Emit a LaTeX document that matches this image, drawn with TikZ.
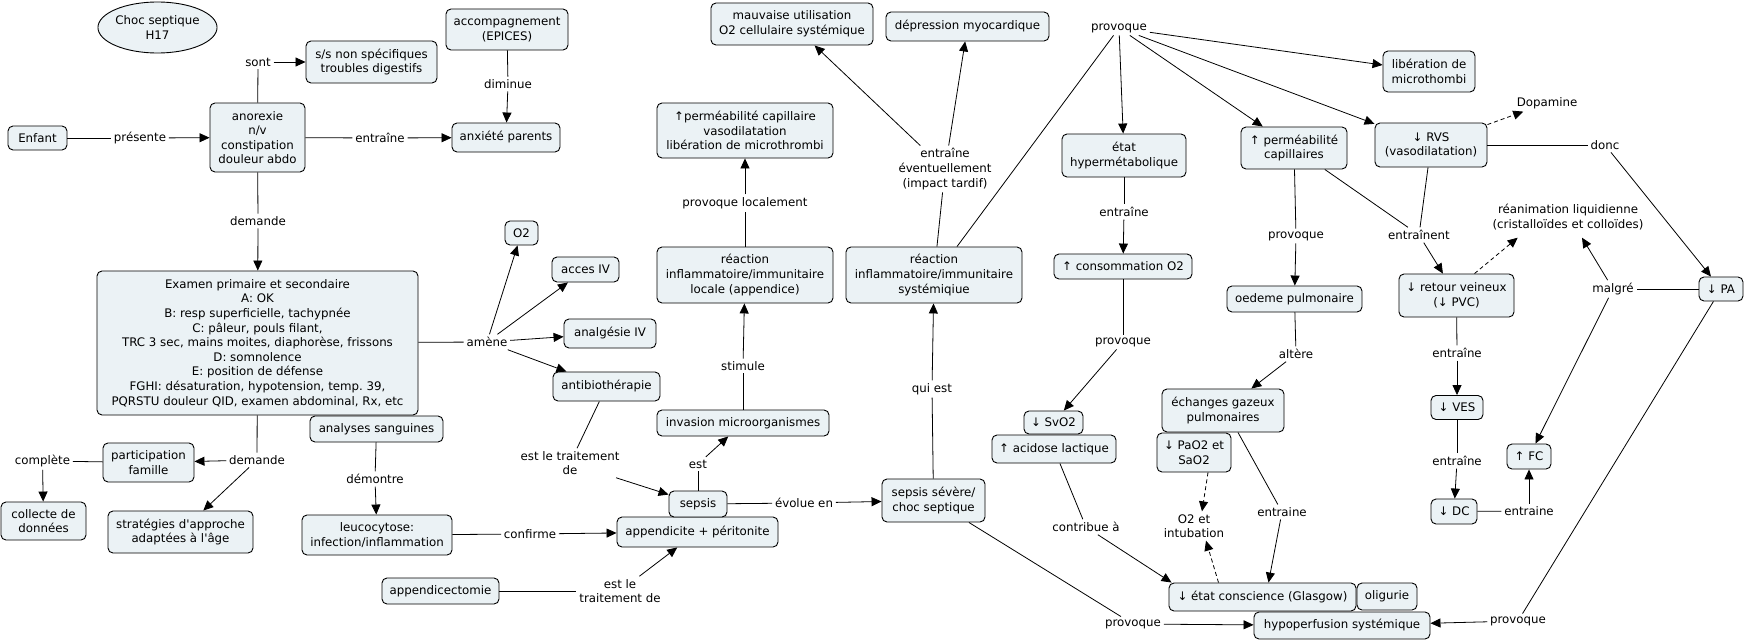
\documentclass[tikz,border=0pt]{standalone}
\usepackage{fontspec}
\setmainfont{DejaVu Sans}
\usetikzlibrary{arrows.meta,shapes.geometric}
\definecolor{boxfill}{RGB}{235,242,245}
\frenchspacing
\tikzset{
  box/.style={draw, line width=0.9pt, rounded corners=5pt, fill=boxfill, align=center, inner sep=1pt},
  lab/.style={align=center, inner sep=2.5pt},
  arr/.style={-{Triangle[length=10pt,width=9pt]}},
  ln/.style={line width=0.8pt},
  dsh/.style={dash pattern=on 4pt off 3pt}
}
\begin{document}
\begin{tikzpicture}[x=1pt,y=-1pt, every node/.style={font=\fontsize{11.8}{14.6}\selectfont}, line width=0.8pt]
\path[fill=white, use as bounding box] (0,0) rectangle (1745,642);

% boxes
\node[ellipse, draw, line width=0.9pt, fill=boxfill, align=center, inner sep=0pt, minimum width=111pt, minimum height=51pt] (choc) at (157.5,27.5) {Choc septique\\H17};
\node[box, minimum width=59pt, minimum height=24pt] (enfant) at (37.5,138) {Enfant};
\node[box, minimum width=95pt, minimum height=69pt] (anor) at (257.5,137.5) {anorexie\\n/v\\constipation\\douleur abdo};
\node[box, minimum width=131pt, minimum height=42pt] (ss) at (371.5,62) {s/s non spécifiques\\troubles digestifs};
\node[box, minimum width=122pt, minimum height=41pt] (accomp) at (507,29.5) {accompagnement\\(EPICES)};
\node[box, minimum width=108pt, minimum height=29pt] (anx) at (506,137.5) {anxiété parents};
\node[box, minimum width=321pt, minimum height=144pt] (exam) at (257.5,343) {Examen primaire et secondaire\\A: OK\\B: resp superficielle, tachypnée\\C: pâleur, pouls filant,\\TRC 3 sec, mains moites, diaphorèse, frissons\\D: somnolence\\E: position de défense\\FGHI: désaturation, hypotension, temp. 39,\\PQRSTU douleur QID, examen abdominal, Rx, etc};
\node[box, minimum width=33pt, minimum height=24pt] (o2) at (521.5,233) {O2};
\node[box, minimum width=67pt, minimum height=25pt] (aiv) at (585.5,269.5) {acces IV};
\node[box, minimum width=92pt, minimum height=29pt] (analg) at (610,333.5) {analgésie IV};
\node[box, minimum width=107pt, minimum height=29pt] (antib) at (606.5,386.5) {antibiothérapie};
\node[box, minimum width=133pt, minimum height=26pt] (analy) at (376.5,429) {analyses sanguines};
\node[box, minimum width=91pt, minimum height=39pt] (partic) at (148.5,462.5) {participation\\famille};
\node[box, minimum width=85pt, minimum height=38pt] (collecte) at (43.5,521) {collecte de\\données};
\node[box, minimum width=145pt, minimum height=42pt] (strat) at (180.5,532) {stratégies d\textquotesingle approche\\adaptées à l\textquotesingle âge};
\node[box, minimum width=150pt, minimum height=40pt] (leuco) at (377,535) {leucocytose:\\infection/inflammation};
\node[box, minimum width=117pt, minimum height=26pt] (appy) at (440.5,591) {appendicectomie};
\node[box, minimum width=161pt, minimum height=30pt] (appper) at (697.5,532) {appendicite + péritonite};
\node[box, minimum width=58pt, minimum height=26pt] (sepsis) at (698,504) {sepsis};
\node[box, minimum width=172pt, minimum height=26pt] (invas) at (743,423) {invasion microorganismes};
\node[box, minimum width=176pt, minimum height=56pt] (rloc) at (745,275) {réaction\\inflammatoire/immunitaire\\locale (appendice)};
\node[box, minimum width=176pt, minimum height=55pt] (perm1) at (745,130.5) {↑perméabilité capillaire\\vasodilatation\\libération de microthrombi};
\node[box, minimum width=162pt, minimum height=42pt] (mauv) at (792,24) {mauvaise utilisation\\O2 cellulaire systémique};
\node[box, minimum width=163pt, minimum height=29pt] (depr) at (967.5,26.5) {dépression myocardique};
\node[box, minimum width=176pt, minimum height=56pt] (rsys) at (934,275) {réaction\\inflammatoire/immunitaire\\systémiqiue};
\node[box, minimum width=103pt, minimum height=43pt] (sev) at (933.5,500.5) {sepsis sévère/\\choc septique};
\node[box, minimum width=124pt, minimum height=43pt] (hyper) at (1124,155.5) {état\\hypermétabolique};
\node[box, minimum width=138pt, minimum height=25pt] (conso) at (1123,266.5) {↑ consommation O2};
\node[box, minimum width=59pt, minimum height=23pt] (svo2) at (1053.5,422.5) {↓ SvO2};
\node[box, minimum width=124pt, minimum height=28pt] (acid) at (1054,449) {↑ acidose lactique};
\node[box, minimum width=106pt, minimum height=42pt] (perm2) at (1294,148) {↑ perméabilité\\capillaires};
\node[box, minimum width=135pt, minimum height=26pt] (oedeme) at (1294.5,299) {oedeme pulmonaire};
\node[box, minimum width=122pt, minimum height=43pt] (echg) at (1223,410.5) {échanges gazeux\\pulmonaires};
\node[box, minimum width=74pt, minimum height=39pt] (pao2) at (1194,452.5) {↓ PaO2 et\\SaO2};
\node[box, minimum width=187pt, minimum height=28pt] (consc) at (1262.5,597) {↓ état conscience (Glasgow)};
\node[box, minimum width=60pt, minimum height=27pt] (olig) at (1387,596.5) {oligurie};
\node[box, minimum width=176pt, minimum height=27pt] (hypop) at (1342,625.5) {hypoperfusion systémique};
\node[box, minimum width=92pt, minimum height=41pt] (lib) at (1429,71.5) {libération de\\microthombi};
\node[box, minimum width=112pt, minimum height=44pt] (rvs) at (1431,145) {↓ RVS\\(vasodilatation)};
\node[box, minimum width=115pt, minimum height=43pt] (retour) at (1456.5,295.5) {↓ retour veineux\\(↓ PVC)};
\node[box, minimum width=52pt, minimum height=24pt] (ves) at (1457,407.5) {↓ VES};
\node[box, minimum width=46pt, minimum height=25pt] (dc) at (1454,511.5) {↓ DC};
\node[box, minimum width=44pt, minimum height=25pt] (fc) at (1529,456.5) {↑ FC};
\node[box, minimum width=44pt, minimum height=24pt] (pa) at (1721,289) {↓ PA};

% labels
\node[lab] (lsont) at (258,62) {sont};
\node[lab] (lpres) at (140,138) {présente};
\node[lab] (lentr1) at (380,138) {entraîne};
\node[lab] (ldim) at (508,84) {diminue};
\node[lab] (ldem1) at (258,221) {demande};
\node[lab] (lamene) at (487,342) {amène};
\node[lab] (ldem2) at (257,460) {demande};
\node[lab] (lcompl) at (42.5,461) {complète};
\node[lab] (ldemo) at (375,479) {démontre};
\node[lab] (lconf) at (530,534) {confirme};
\node[lab] (ltrait1) at (570,463) {est le traitement\\de};
\node[lab] (ltrait2) at (620,591) {est le\\traitement de};
\node[lab] (lest) at (698,464) {est};
\node[lab] (lstim) at (743,366) {stimule};
\node[lab] (lprovloc) at (745,203) {provoque localement};
\node[lab] (levol) at (804,503) {évolue en};
\node[lab] (lquiest) at (932,389) {qui est};
\node[lab] (lentrev) at (945,169) {entraîne\\éventuellement\\(impact tardif)};
\node[lab] (lprov1) at (1119,28) {provoque};
\node[lab] (lentr2) at (1124,212) {entraîne};
\node[lab] (lprov2) at (1123,342) {provoque};
\node[lab] (lcontr) at (1086,527) {contribue à};
\node[lab] (lprov3) at (1296,236) {provoque};
\node[lab] (laltere) at (1296,354) {altère};
\node[lab] (lo2int) at (1194,526) {O2 et\\intubation};
\node[lab] (lentraine) at (1282,512) {entraine};
\node[lab] (lprov4) at (1133,624) {provoque};
\node[lab] (ldopa) at (1547,103) {Dopamine};
\node[lab] (ldonc) at (1605,145) {donc};
\node[lab] (lentrnt) at (1419,235) {entraînent};
\node[lab] (lrea) at (1568,217) {réanimation liquidienne\\(cristalloïdes et colloïdes)};
\node[lab] (lmalgre) at (1613,289) {malgré};
\node[lab] (lentr3) at (1457,353) {entraîne};
\node[lab] (lentr4) at (1457,461) {entraîne};
\node[lab] (lentraine2) at (1529,511) {entraine};
\node[lab] (lprov5) at (1518,621) {provoque};

% connectors
\draw (enfant) -- (lpres); \draw[arr] (lpres) -- (anor);
\draw (anor) -- (lsont); \draw[arr] (lsont) -- (ss);
\draw (anor) -- (lentr1); \draw[arr] (lentr1) -- (anx);
\draw (accomp) -- (ldim); \draw[arr] (ldim) -- (anx);
\draw (anor) -- (ldem1); \draw[arr] (ldem1) -- (exam);
\draw (exam) -- (lamene);
\draw[arr] (lamene) -- (o2);
\draw[arr] (lamene) -- (aiv);
\draw[arr] (lamene) -- (analg);
\draw[arr] (lamene) -- (antib);
\draw (exam) -- (ldem2);
\draw[arr] (ldem2) -- (partic);
\draw[arr] (ldem2) -- (strat);
\draw (partic) -- (lcompl); \draw[arr] (lcompl) -- (collecte);
\draw (analy) -- (ldemo); \draw[arr] (ldemo) -- (leuco);
\draw (leuco) -- (lconf); \draw[arr] (lconf) -- (appper);
\draw (antib) -- (ltrait1); \draw[arr] (ltrait1) -- (sepsis);
\draw (appy) -- (ltrait2); \draw[arr] (ltrait2) -- (appper);
\draw (sepsis) -- (lest); \draw[arr] (lest) -- (invas);
\draw (invas) -- (lstim); \draw[arr] (lstim) -- (rloc);
\draw (rloc) -- (lprovloc); \draw[arr] (lprovloc) -- (perm1);
\draw (sepsis) -- (levol); \draw[arr] (levol) -- (sev);
\draw (sev) -- (lquiest); \draw[arr] (lquiest) -- (rsys);
\draw (rsys) -- (lentrev);
\draw[arr] (lentrev) -- (mauv);
\draw[arr] (lentrev) -- (depr);
\draw ([xshift=23pt]rsys.north) -- (lprov1);
\draw[arr] (lprov1) -- (hyper);
\draw[arr] (lprov1) -- (perm2);
\draw[arr] (lprov1) -- (rvs);
\draw[arr] (lprov1) -- (lib);
\draw (hyper) -- (lentr2); \draw[arr] (lentr2) -- (conso);
\draw (conso) -- (lprov2); \draw[arr] (lprov2) -- (svo2);
\draw (acid) -- (lcontr); \draw[arr] (lcontr) -- ([xshift=3pt]consc.north west);
\draw (perm2) -- (lprov3); \draw[arr] (lprov3) -- (oedeme);
\draw (oedeme) -- (laltere); \draw[arr] (laltere) -- (echg);
\draw[arr, dsh] ([xshift=14pt]pao2.south) -- ([xshift=8pt]lo2int.north);
\draw[arr, dsh] ([xshift=-44pt]consc.north) -- ([xshift=12pt]lo2int.south);
\draw ([xshift=15pt]echg.south) -- (lentraine); \draw[arr] (lentraine) -- ([xshift=6pt]consc.north);
\draw (sev) -- (lprov4); \draw[arr] (lprov4) -- (hypop);
\draw[arr, dsh] (rvs) -- (ldopa);
\draw (rvs) -- (ldonc); \draw[arr] (ldonc) -- (pa);
\draw (perm2) -- (lentrnt); \draw (rvs) -- (lentrnt); \draw[arr] (lentrnt) -- (retour);
\draw[arr, dsh] ([xshift=18pt]retour.north) -- ([xshift=28pt,yshift=-5pt]lrea.south west);
\draw (pa) -- (lmalgre);
\draw[arr] (lmalgre) -- ([xshift=14pt,yshift=-5pt]lrea.south);
\draw[arr] (lmalgre) -- (fc);
\draw (retour) -- (lentr3); \draw[arr] (lentr3) -- (ves);
\draw (ves) -- (lentr4); \draw[arr] (lentr4) -- (dc);
\draw (dc) -- (lentraine2); \draw[arr] (lentraine2) -- (fc);
\draw (pa) -- (lprov5); \draw[arr] (lprov5) -- (hypop);
\end{tikzpicture}
\end{document}
